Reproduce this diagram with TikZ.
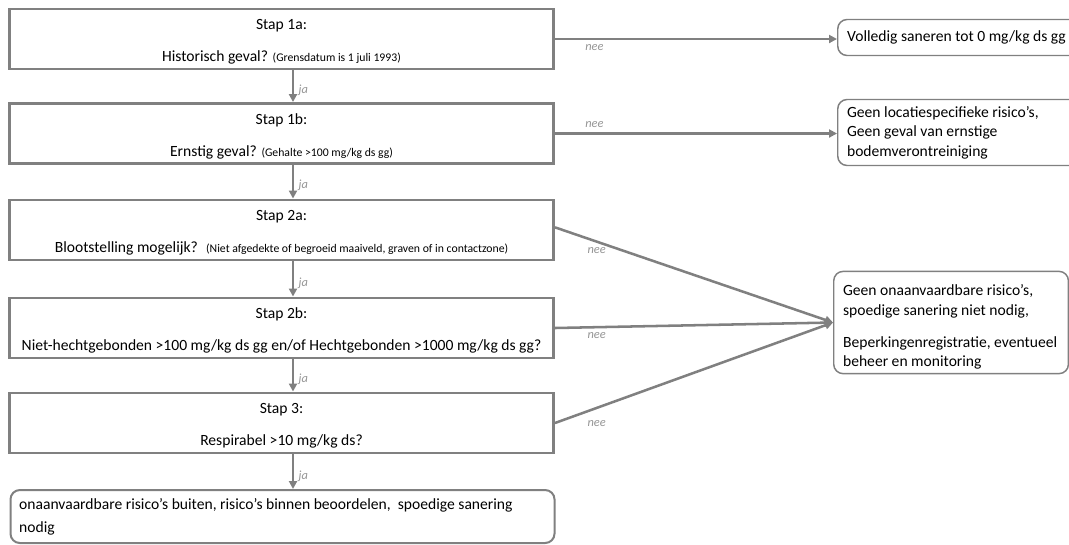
\documentclass[tikz,border=0pt]{standalone}
\usepackage{fontspec}
\setmainfont{Carlito}
\usetikzlibrary{positioning,arrows.meta}
\definecolor{kadergrijs}{RGB}{128,128,128}
\definecolor{labelgrijs}{RGB}{150,150,150}
\newcommand{\kleinfont}{\fontsize{8.8}{10}\selectfont}

\begin{document}
\begin{tikzpicture}[x=0.75pt, y=-0.75pt,
    >={Triangle[length=6pt,width=6pt]},
    stapbox/.style={draw=kadergrijs, line width=2.2pt, minimum width=408pt,
        minimum height=45pt, align=flush center, inner sep=0pt,
        font=\fontsize{11.7}{14.3}\selectfont},
    eindbox/.style={draw=kadergrijs, line width=1.1pt, rounded corners=7pt,
        anchor=west, align=flush left, inner xsep=7pt,
        font=\fontsize{11.7}{14.5}\selectfont},
    pijl/.style={->, draw=kadergrijs, line width=1.9pt},
    antw/.style={font=\fontsize{9.3}{10}\selectfont\itshape, text=labelgrijs}]
    \useasboundingbox (0,0) rectangle (1069,544);

    % Stappen (vragen)
    \foreach \n/\yy/\kop/\vraag in {%
        1a/39/{Stap 1a:}/{Historisch geval? {\kleinfont (Grensdatum is 1 juli 1993)}},%
        1b/133.5/{Stap 1b:}/{Ernstig geval? {\kleinfont (Gehalte >100 mg/kg ds gg)}},%
        2a/230/{Stap 2a:}/{Blootstelling mogelijk?~ {\kleinfont (Niet afgedekte of begroeid maaiveld, graven of in contactzone)}},%
        2b/328/{Stap 2b:}/{Niet-hechtgebonden >100 mg/kg ds gg en/of Hechtgebonden >1000 mg/kg ds gg?},%
        3/423/{Stap 3:}/{Respirabel >10 mg/kg ds?}%
    } {
        \node[stapbox] (s\n) at (281.5,\yy) {\rule{0pt}{12pt}\kop\\[9.5pt]\vraag};
    }

    % Uitkomsten
    \node[eindbox, minimum width=189pt, minimum height=27pt, text width=175pt]
        (e1a) at (837,37.5) {Volledig saneren tot 0 mg/kg ds gg};
    \node[eindbox, minimum width=189pt, minimum height=49.5pt, text width=175pt]
        (e1b) at (837,132.5) {Geen locatiespecifieke risico’s,\\Geen geval van ernstige\\bodemverontreiniging};
    \node[eindbox, minimum height=73.5pt, text width=162pt]
        (e2) at (833,322.5) {\rule{0pt}{15pt}Geen onaanvaardbare risico’s,\\spoedige sanering niet nodig,\\[9.5pt]Beperkingenregistratie, eventueel\\beheer en monitoring};
    \node[eindbox, minimum height=39.75pt, text width=395pt, inner xsep=6.5pt, line width=1.5pt]
        (e3) at (9.5,516.5) {onaanvaardbare risico’s buiten, risico’s binnen beoordelen, ~spoedige sanering\\[2.5pt]nodig};

    % ja-pijlen
    \coordinate (as) at (293,0);
    \foreach \a/\b in {s1a/s1b, s1b/s2a, s2a/s2b, s2b/s3, s3/e3}
        \draw[pijl] (\a.south -| as) -- node[antw, right, pos=0.62] {ja} (\b.north -| as);

    % nee-pijlen
    \draw[pijl] (s1a.east) -- node[antw, below, pos=0.14] {nee} (s1a.east -| e1a.west);
    \draw[pijl] (s1b.east) -- node[antw, above, pos=0.14] {nee} (s1b.east -| e1b.west);
    \draw[pijl] ([yshift=2pt]s2a.east) -- node[antw, below, pos=0.15] {nee} (e2.west);
    \draw[pijl] (s2b.east) -- node[antw, below, pos=0.15] {nee} (e2.west);
    \draw[pijl] (s3.east) -- node[antw, below=5pt, pos=0.15] {nee} (e2.west);
\end{tikzpicture}
\end{document}
